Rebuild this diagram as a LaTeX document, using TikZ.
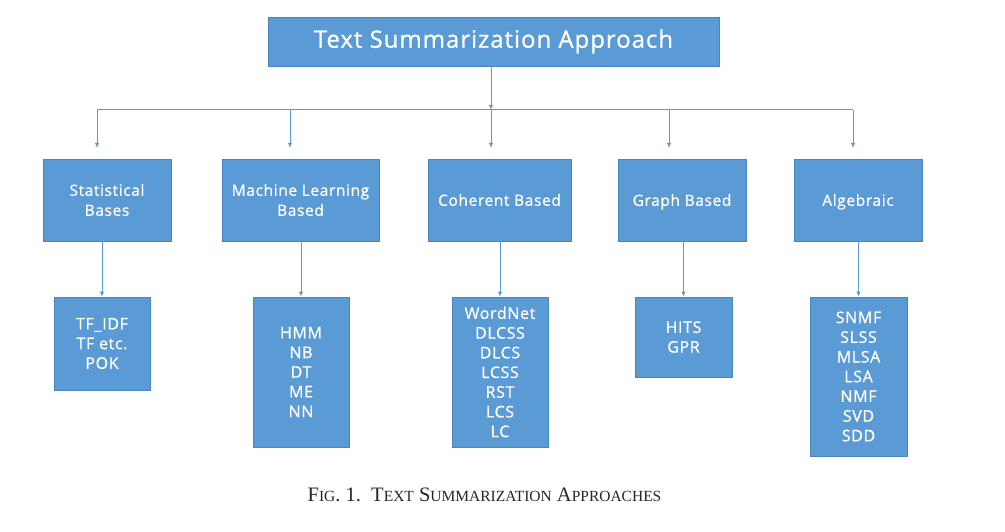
\documentclass[tikz,border=0pt]{standalone}
\usepackage{fontspec}
\setmainfont{Open Sans}[LetterSpace=4,UprightFeatures={FakeBold=0.8}]
\newfontfamily\capfont{Liberation Serif}
\usetikzlibrary{arrows.meta}
\definecolor{boxblue}{HTML}{5B9BD5}
\definecolor{boxedge}{HTML}{4A86BE}
\begin{document}
\begin{tikzpicture}[x=1pt,y=-1pt,
  box/.style={draw=boxedge,line width=0.6pt,fill=boxblue,text=white,align=center,inner sep=0pt},
  l1/.style={box,font=\fontsize{15.5}{20}\selectfont},
  l2/.style={box,font=\fontsize{16}{19.7}\selectfont},
  conn/.style={draw=boxblue,line width=1pt,-{Latex[length=5pt,width=4.5pt]}},
  bus/.style={draw=boxblue,line width=1pt}]
\useasboundingbox (0,0) rectangle (1005,532);
% top
\node[box,minimum width=451pt,minimum height=49pt,font=\fontsize{24}{28}\selectfont] (top) at (493.5,41.5) {Text Summarization Approach};
% level 1
\node[l1,minimum width=128pt,minimum height=82pt] (stat) at (107,200) {Statistical\\Bases};
\node[l1,minimum width=157pt,minimum height=82pt] (ml) at (300.5,200) {Machine Learning\\Based};
\node[l1,minimum width=143pt,minimum height=82pt] (coh) at (499.5,200) {Coherent Based};
\node[l1,minimum width=128pt,minimum height=82pt,text depth=0pt] (graph) at (682,200) {Graph Based};
\node[l1,minimum width=128pt,minimum height=82pt,text depth=0pt] (alg) at (858,200) {Algebraic};
% level 2
\node[l2,minimum width=96pt,minimum height=93pt] (tf) at (102,343.5) {TF\_IDF\\TF etc.\\POK};
\node[l2,minimum width=96pt,minimum height=150pt] (hmm) at (301,372) {HMM\\NB\\DT\\ME\\NN};
\node[l2,minimum width=96pt,minimum height=150pt] (wn) at (500,372) {WordNet\\DLCSS\\DLCS\\LCSS\\RST\\LCS\\LC};
\node[l2,minimum width=97pt,minimum height=80pt] (hits) at (683.5,337) {HITS\\GPR};
\node[l2,minimum width=97pt,minimum height=159pt] (snmf) at (858.5,376.5) {SNMF\\SLSS\\MLSA\\LSA\\NMF\\SVD\\SDD};
% bus
\coordinate (busL) at (97,110);
\coordinate (busR) at (853,110);
\coordinate (busM) at (491,110);
\coordinate (b2) at (290,110);
\coordinate (b4) at (669,110);
\coordinate (e1) at (97,148);
\coordinate (e2) at (290,148);
\coordinate (e3) at (491,148);
\coordinate (e4) at (669,148);
\coordinate (e5) at (853,148);
\draw[bus] (busL) -- (busR);
\draw[conn] (top.south -| busM) -- (busM);
\draw[conn] (busL) -- (e1);
\draw[conn] (b2) -- (e2);
\draw[conn] (busM) -- (e3);
\draw[conn] (b4) -- (e4);
\draw[conn] (busR) -- (e5);
% level 1 -> level 2
\draw[conn] (stat.south -| tf.north) -- (tf.north);
\draw[conn] (ml.south -| hmm.north) -- (hmm.north);
\draw[conn] (coh.south -| wn.north) -- (wn.north);
\draw[conn] (graph.south -| hits.north) -- (hits.north);
\draw[conn] (alg.south -| snmf.north) -- (snmf.north);
% caption
\node[font=\capfont\fontsize{20.5}{24}\selectfont,text=black!85] (cap) at (484.5,495) {F{\fontsize{15.5}{24}\selectfont IG}. 1.\ \ T{\fontsize{15.5}{24}\selectfont EXT} S{\fontsize{15.5}{24}\selectfont UMMARIZATION} A{\fontsize{15.5}{24}\selectfont PPROACHES}};
\end{tikzpicture}
\end{document}
